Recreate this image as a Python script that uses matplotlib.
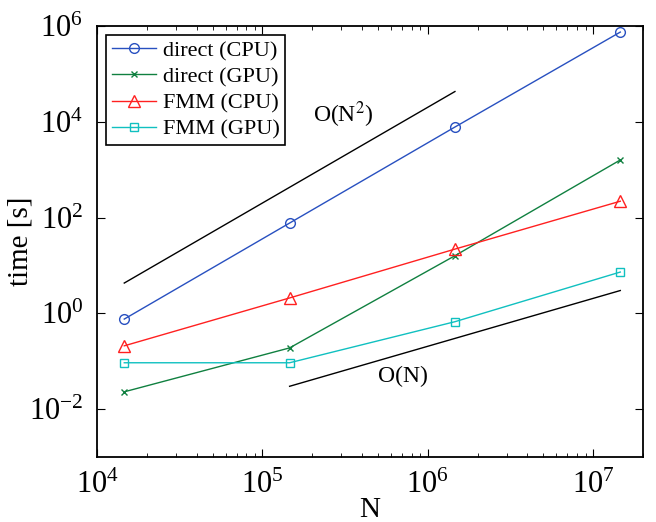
import numpy as np
import matplotlib
matplotlib.use('Agg')
import matplotlib.pyplot as plt
from matplotlib.ticker import LogLocator, NullLocator, NullFormatter

plt.rcParams['font.family'] = ['Liberation Serif', 'DejaVu Serif']
plt.rcParams['mathtext.fontset'] = 'stix'

# Data
N = [1.46e4, 1.46e5, 1.46e6, 1.46e7]
direct_cpu = [0.76, 77, 7800, 7.5e5]
direct_gpu = [0.023, 0.19, 16, 1600]
fmm_cpu = [0.21, 2.1, 22, 220]
fmm_gpu = [0.093, 0.093, 0.67, 7.3]

# reference slopes
n2_x = [1.46e4, 1.46e6]
n2_y = [4.3, 4.3e4]
n1_x = [1.46e5, 1.46e7]
n1_y = [0.03, 3.0]

fig = plt.figure(figsize=(6.56, 5.22), dpi=100)
ax = fig.add_axes([0.148, 0.1245, 0.832, 0.8255])

ax.loglog(N, direct_cpu, '-o', color='#2850c0', mfc='none', ms=7, lw=1, label='direct (CPU)')
ax.loglog(N, direct_gpu, '-x', color='#108040', ms=5, lw=1, label='direct (GPU)')
ax.loglog(N, fmm_cpu, '-^', color='#ff2020', mfc='none', ms=8, lw=1, label='FMM (CPU)')
ax.loglog(N, fmm_gpu, '-s', color='#10c0c0', mfc='none', ms=6, lw=1, label='FMM (GPU)')

ax.loglog(n2_x, n2_y, 'k-', lw=1)
ax.loglog(n1_x, n1_y, 'k-', lw=1)
ax.text(3.1e5, 1.4e4, 'O(N$^2$)', fontsize=17, ha='center', va='center')
ax.text(7.1e5, 0.047, 'O(N)', fontsize=17, ha='center', va='center')

ax.set_xlim(1e4, 2e7)
ax.set_ylim(1e-3, 1e6)
ax.set_yticks([1e-2, 1, 1e2, 1e4, 1e6])
ax.yaxis.set_minor_locator(NullLocator())
ax.xaxis.set_minor_locator(LogLocator(base=10, subs=np.arange(2, 10)))
ax.xaxis.set_minor_formatter(NullFormatter())
ax.tick_params(which='both', direction='in', top=True, right=True, labelsize=22)
ax.tick_params(which='major', length=6, pad=10)
ax.tick_params(which='minor', length=3)
for s in ax.spines.values():
    s.set_linewidth(1.3)

ax.set_xlabel('N', fontsize=21, labelpad=-2)
ax.set_ylabel('time [s]', fontsize=21)
ax.yaxis.set_label_coords(-0.117, 0.5)

leg = ax.legend(loc='upper left', fontsize=16, fancybox=False, edgecolor='k',
                framealpha=1, borderaxespad=0.4, handlelength=2.0,
                labelspacing=0.25, borderpad=0.25, handletextpad=0.3)
leg.get_frame().set_linewidth(1.2)

plt.savefig('out.png', dpi=100)
